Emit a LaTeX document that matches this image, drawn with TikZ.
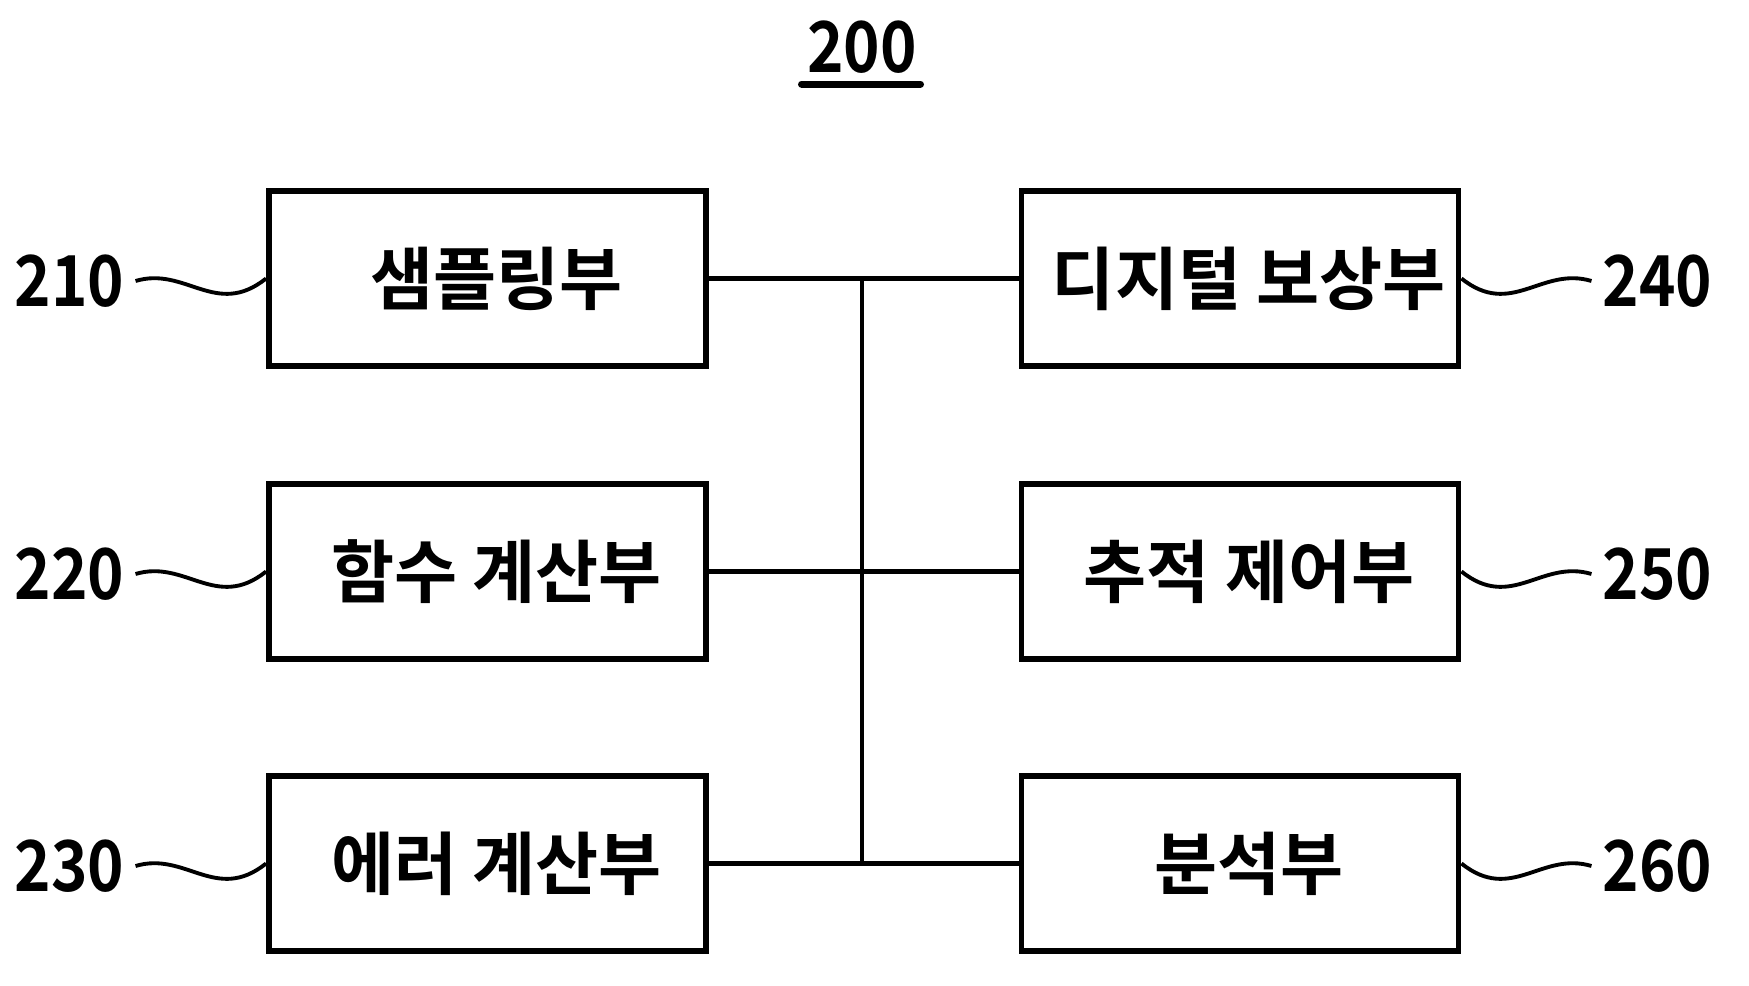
\documentclass[tikz,border=0pt]{standalone}
\usepackage{fontspec}
\setmainfont{Noto Sans CJK KR}[BoldFont={Noto Sans CJK KR Bold}]
\newfontfamily\numfont{Noto Sans CJK KR Bold}[FakeStretch=0.88]

\tikzstyle{block} = [draw=black,line width=1.6pt,minimum width=4.37cm,minimum height=1.75cm,inner sep=0pt,font=\fontsize{19.5}{21}\selectfont\bfseries,execute at begin node=\hspace*{0.18cm}]
\tikzstyle{wire} = [draw=black,line width=1.3pt]
\tikzstyle{lead} = [draw=black,line width=1.1pt]
\tikzstyle{refnum} = [inner sep=0pt,font=\fontsize{20}{21}\selectfont\numfont]

\begin{document}
\begin{tikzpicture}[x=0.01cm,y=-0.01cm]
    \useasboundingbox (0,0) rectangle (1749,986);

    \coordinate (samp) at (487.5, 278.5);
    \coordinate (func) at (487.5, 571.5);
    \coordinate (err) at (487.5, 863.5);
    \coordinate (comp) at (1240, 278.5);
    \coordinate (track) at (1240, 571.5);
    \coordinate (anal) at (1240, 863.5);
    \coordinate (bustop) at (862, 278.5);
    \coordinate (busbot) at (862, 863.5);

    \node [style=refnum] (title) at (862, 47) {200};
    \draw [line width=2pt,line cap=round] ([xshift=-0.05cm, yshift=-0.1cm]title.south west) -- ([xshift=0.03cm, yshift=-0.1cm]title.south east);

    \node [style=block] (samp) at (samp) {샘플링부};
    \node [style=block] (func) at (func) {함수 계산부};
    \node [style=block] (err) at (err) {에러 계산부};
    \node [style=block] (comp) at (comp) {디지털 보상부};
    \node [style=block] (track) at (track) {추적 제어부};
    \node [style=block] (anal) at (anal) {분석부};

    \node [style=refnum,anchor=east] (n210) at (125, 281) {210};
    \node [style=refnum,anchor=east] (n220) at (125, 574) {220};
    \node [style=refnum,anchor=east] (n230) at (125, 866) {230};
    \node [style=refnum,anchor=west] (n240) at (1602, 281) {240};
    \node [style=refnum,anchor=west] (n250) at (1602, 574) {250};
    \node [style=refnum,anchor=west] (n260) at (1602, 866) {260};

    \draw [style=wire] (samp.east) -- (comp.west);
    \draw [style=wire] (func.east) -- (track.west);
    \draw [style=wire] (err.east) -- (anal.west);
    \draw [style=wire] (bustop) -- (busbot);

    \draw [style=lead] ([xshift=3]n210.east) .. controls +(50,-15) and +(-50,40) .. (samp.west);
    \draw [style=lead] ([xshift=3]n220.east) .. controls +(50,-15) and +(-50,40) .. (func.west);
    \draw [style=lead] ([xshift=3]n230.east) .. controls +(50,-15) and +(-50,40) .. (err.west);
    \draw [style=lead] (comp.east) .. controls +(50,40) and +(-50,-15) .. ([xshift=-3]n240.west);
    \draw [style=lead] (track.east) .. controls +(50,40) and +(-50,-15) .. ([xshift=-3]n250.west);
    \draw [style=lead] (anal.east) .. controls +(50,40) and +(-50,-15) .. ([xshift=-3]n260.west);
\end{tikzpicture}
\end{document}
